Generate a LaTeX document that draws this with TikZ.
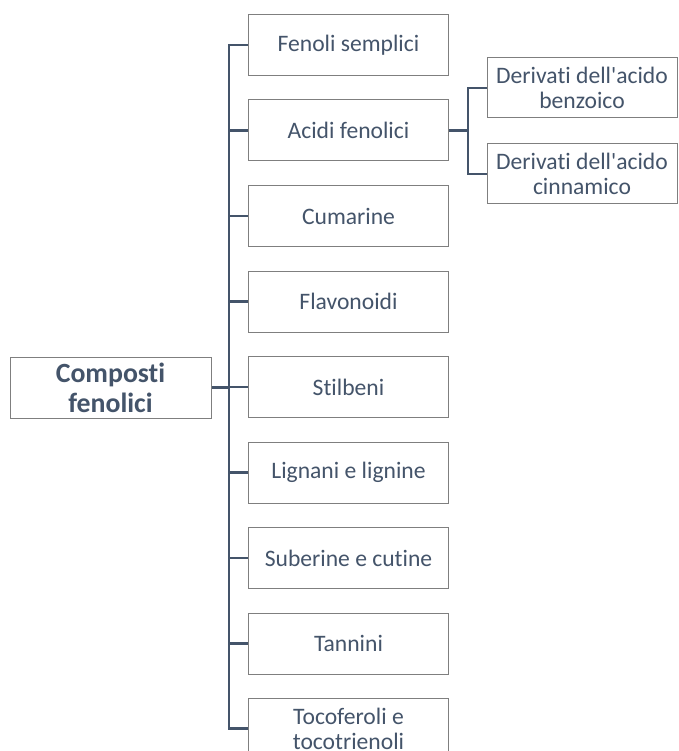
\documentclass[tikz,border=0pt]{standalone}
\usepackage{fontspec}
\newfontfamily\calib{Carlito}[Ligatures=NoCommon]
\definecolor{txt}{HTML}{44546A}
\definecolor{brd}{HTML}{7F7F7F}
\begin{document}
\begin{tikzpicture}[x=1pt,y=-1pt,
  box/.style={draw=brd,line width=1pt,fill=white,text=txt,minimum width=200pt,minimum height=61pt,align=center,font=\calib\fontsize{23.6}{25}\selectfont,inner sep=0pt},
  subbox/.style={box,minimum width=190pt,minimum height=60pt},
  mainbox/.style={box,minimum width=201pt,minimum height=61pt,font=\calib\fontsize{27.8}{30}\selectfont\bfseries},
  conn/.style={draw=txt,line width=2.6pt,line join=miter}]
\useasboundingbox (0,0) rectangle (678,751);
\clip (0,0) rectangle (678,751);
\node[mainbox] (main) at (110.5,387.5) {Composti\\fenolici};
\node[box] (c1) at (348.5,45) {Fenoli semplici};
\node[box] (c2) at (348.5,130.5) {Acidi fenolici};
\node[box] (c3) at (348.5,216) {Cumarine};
\node[box] (c4) at (348.5,301.5) {Flavonoidi};
\node[box] (c5) at (348.5,387) {Stilbeni};
\node[box] (c6) at (348.5,472.5) {Lignani e lignine};
\node[box] (c7) at (348.5,558) {Suberine e cutine};
\node[box] (c8) at (348.5,643.5) {Tannini};
\node[box] (c9) at (348.5,728.5) {Tocoferoli e\\tocotrienoli};
\node[subbox] (s1) at (582,88) {Derivati dell'acido\\benzoico};
\node[subbox] (s2) at (582,174) {Derivati dell'acido\\cinnamico};
\coordinate (tr) at (229,0);
\coordinate (tr2) at (468,0);
\draw[conn] (c1.west) -- (c1.west -| tr) -- (c9.west -| tr) -- (c9.west);
\foreach \n in {c2,c3,c4,c5,c6,c7,c8} \draw[conn] (tr |- \n.west) -- (\n.west);
\draw[conn] (main.east) -- (main.east -| tr);
\draw[conn] (c2.east) -- (c2.east -| tr2);
\draw[conn] (s1.west) -- (s1.west -| tr2) -- (s2.west -| tr2) -- (s2.west);
\end{tikzpicture}
\end{document}
